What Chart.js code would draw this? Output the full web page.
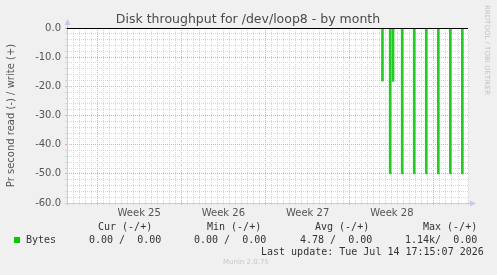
<!DOCTYPE html>
<html>
<head>
<meta charset="utf-8">
<script src="https://cdn.jsdelivr.net/npm/chart.js@4"></script>
<style>
  html, body { margin: 0; padding: 0; background: #f0f0f0; }
  #wrap { position: relative; width: 497px; height: 275px; overflow: hidden; }
  #chart { position: absolute; left: 0; top: 0; }
  .t { position: absolute; font-family: "DejaVu Sans Mono", monospace; font-size: 10px; line-height: 12px; color: #333; white-space: pre; }
  .sq { position: absolute; width: 6px; height: 6px; background: #00cc00; }
  .munin { position: absolute; font-family: "DejaVu Sans", sans-serif; font-size: 7px; color: #c8c8c8; }
  .rrd { position: absolute; font-family: "DejaVu Sans", sans-serif; font-size: 7px; color: #c4c4c4; writing-mode: vertical-rl; white-space: nowrap; }
</style>
</head>
<body>
<div id="wrap">
  <canvas id="chart" width="497" height="275"></canvas>
  <div class="rrd" style="left:483px; top:5px;">RRDTOOL / TOBI OETIKER</div>
  <div id="legend"></div>
  <div class="munin" style="left:223px; top:258px;">Munin 2.0.75</div>
</div>
<script>
// x axis is in days from the left edge of the graph
const weekLabels = ["Week 25", "Week 26", "Week 27", "Week 28"];
const weekMidDays = [6, 13, 20, 27];
const weekStartDays = [2.5, 9.5, 16.5, 23.5, 30.5];
const rangeDays = 33.33;

// read (-) spikes
const spikeDays = [26.22, 26.86, 27.1, 27.86, 28.86, 29.86, 30.86, 31.86, 32.86];
const readValues = [-18.2, -50, -18.3, -50, -50, -50, -50, -50, -50];

const legendHeaders = ["Cur (-/+)", "Min (-/+)", "Avg (-/+)", "Max (-/+)"];
const legendValues = ["0.00 /  0.00", "0.00 /  0.00", "4.78 /  0.00", "1.14k/  0.00"];
const lastUpdate = "Last update: Tue Jul 14 17:15:07 2026";

const RED = "#e6a8a8";
const GRAY = "#d8d8d8";
const AXIS = "#c4c8f4";

function isMajorX(v) {
    return weekStartDays.some(w => Math.abs(w - v) < 1e-6);
}

const rrdPlugin = {
    id: "rrd",
    beforeDraw(chart) {
        const a = chart.chartArea;
        const c = chart.ctx;
        c.save();
        c.fillStyle = "#ffffff";
        c.fillRect(a.left, a.top, a.right - a.left, a.bottom - a.top);
        c.restore();
    },
    afterDraw(chart) {
        const a = chart.chartArea;
        const c = chart.ctx;
        const y0 = Math.round(chart.scales.y.getPixelForValue(0)) + 0.5;
        const l = Math.round(a.left) + 0.5;
        const b = Math.round(a.bottom) + 0.5;
        c.save();
        // axes
        c.strokeStyle = AXIS;
        c.lineWidth = 1;
        c.beginPath();
        c.moveTo(l, b + 2);
        c.lineTo(l, a.top - 5);
        c.moveTo(l - 2, b);
        c.lineTo(a.right + 3, b);
        c.stroke();
        c.fillStyle = AXIS;
        c.beginPath();
        c.moveTo(l - 3, a.top - 3);
        c.lineTo(l + 3, a.top - 3);
        c.lineTo(l, a.top - 9);
        c.closePath();
        c.fill();
        c.beginPath();
        c.moveTo(a.right + 2, b - 3);
        c.lineTo(a.right + 2, b + 3);
        c.lineTo(a.right + 8, b);
        c.closePath();
        c.fill();
        // zero line
        c.strokeStyle = "#000000";
        c.beginPath();
        c.moveTo(a.left, y0);
        c.lineTo(a.right, y0);
        c.stroke();
        // title
        c.fillStyle = "#4a4a4a";
        c.font = '12.5px "DejaVu Sans"';
        c.textAlign = "center";
        c.fillText("Disk throughput for /dev/loop8 - by month", 248, 23);
        c.restore();
    }
};

const ctx = document.getElementById("chart").getContext("2d");
new Chart(ctx, {
    type: "bar",
    data: {
        datasets: [{
            label: "Bytes",
            data: spikeDays.map((d, i) => ({ x: d, y: readValues[i] })),
            backgroundColor: "#22cc22",
            borderWidth: 0,
            barThickness: 2
        }]
    },
    options: {
        responsive: false,
        animation: false,
        layout: { padding: { top: 28, right: 29, bottom: 52, left: 0 } },
        plugins: {
            legend: { display: false },
            tooltip: { enabled: false },
            title: { display: false }
        },
        scales: {
            x: {
                type: "linear",
                min: 0,
                max: rangeDays,
                offset: false,
                grid: {
                    offset: false,
                    color: c => isMajorX(c.tick.value) ? RED : GRAY,
                    tickColor: c => isMajorX(c.tick.value) ? RED : GRAY,
                    tickLength: 2
                },
                border: { display: false, dash: [1, 1] },
                ticks: {
                    stepSize: 0.5,
                    autoSkip: false,
                    maxRotation: 0,
                    padding: 2,
                    color: "#555",
                    font: { family: "DejaVu Sans", size: 10 },
                    callback: v => {
                        const i = weekMidDays.findIndex(w => Math.abs(w - v) < 1e-6);
                        return i >= 0 ? weekLabels[i] : "";
                    }
                },
                afterFit: s => { s.height = 20; }
            },
            y: {
                min: -60,
                max: 0,
                grid: {
                    color: c => Math.abs(c.tick.value % 10) < 1e-6 ? RED : GRAY,
                    tickColor: c => Math.abs(c.tick.value % 10) < 1e-6 ? RED : GRAY,
                    tickLength: 2
                },
                border: { display: false, dash: [1, 1] },
                ticks: {
                    stepSize: 2,
                    autoSkip: false,
                    padding: 4,
                    color: "#555",
                    font: { family: "DejaVu Sans", size: 10 },
                    callback: v => Math.abs(v % 10) < 1e-6 ? v.toFixed(1) : ""
                },
                title: {
                    display: true,
                    text: "Pr second read (-) / write (+)",
                    color: "#555",
                    font: { family: "DejaVu Sans", size: 10 },
                    padding: { top: 5, bottom: 0 }
                },
                afterFit: s => { s.width = 67; }
            }
        }
    },
    plugins: [rrdPlugin]
});

// legend table below the graph
const legend = document.getElementById("legend");
function addText(txt, x, yc) {
    const d = document.createElement("div");
    d.className = "t";
    d.textContent = txt;
    d.style.left = x + "px";
    d.style.top = (yc - 6) + "px";
    legend.appendChild(d);
}
const headerX = [98, 207, 315, 423];
const valueX = [89, 194, 300, 405];
legendHeaders.forEach((h, i) => addText(h, headerX[i], 227));
legendValues.forEach((v, i) => addText(v, valueX[i], 240));
addText("Bytes", 26, 240);
addText(lastUpdate, 261, 252);
const sq = document.createElement("div");
sq.className = "sq";
sq.style.left = "14px";
sq.style.top = "237px";
legend.appendChild(sq);
</script>
</body>
</html>
